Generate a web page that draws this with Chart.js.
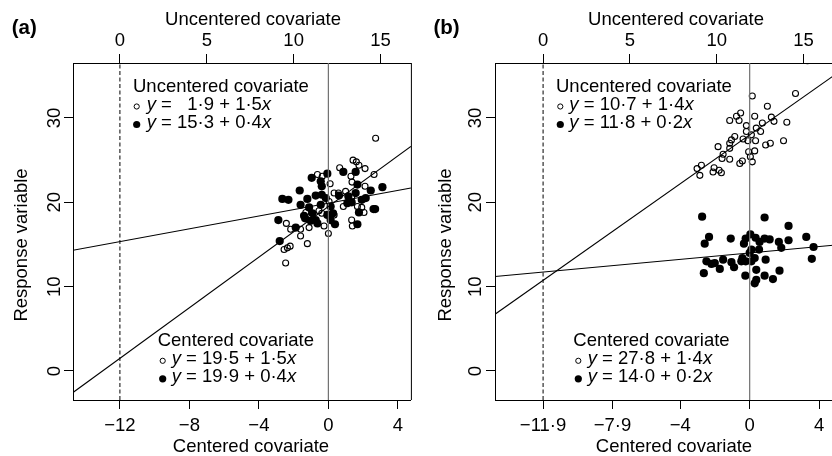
<!DOCTYPE html>
<html>
<head>
<meta charset="utf-8">
<script src="https://cdn.jsdelivr.net/npm/chart.js@4/dist/chart.umd.min.js"></script>
<style>
  html, body { margin: 0; padding: 0; background: #fff; overflow: hidden; width: 832px; height: 456px; }
  #ca { position: absolute; left: 0; top: 0; }
  #cb { position: absolute; left: 416px; top: 0; }
</style>
</head>
<body>
<canvas id="ca" width="416" height="456"></canvas>
<canvas id="cb" width="424" height="456"></canvas>
<script>
// ---- data (x = centered covariate) ----
const yTicks = [0, 10, 20, 30];
const topTicks = [0, 5, 10, 15];

// panel (a)
const aMean = 12.0;
const aBottomTicks = [-12, -8, -4, 0, 4];
const aOpenX = [2.72, 1.42, 1.61, 1.76, 2.11, 0.65, 1.30, 2.63, -0.63, -0.35, 0.10, 2.11, 0.33, 0.58, 0.99, 0.86, 1.34, 1.67, 1.92, 2.05, 1.34, 1.38, -0.54, -0.38, 0.33, -1.30, -2.42, -2.17, -1.60, -1.11, -0.25, 0.00, -1.60, -1.21, -2.55, -2.36, -2.20, -2.46, 0.04, 1.36];
const aOpenY = [27.6, 25.0, 24.8, 24.4, 24.0, 24.1, 23.1, 23.3, 23.3, 23.1, 22.2, 21.9, 21.1, 21.1, 21.3, 19.5, 20.6, 19.5, 19.4, 18.8, 17.9, 17.2, 19.0, 18.7, 18.5, 18.8, 17.5, 16.8, 16.8, 17.0, 17.2, 16.3, 16.0, 15.1, 14.4, 14.6, 14.8, 12.8, 20.1, 22.4];
const aFillX = [-0.06, 0.86, 1.57, -0.96, -0.38, -1.65, 1.67, 2.44, 3.11, -0.73, -0.38, -0.15, -1.21, -2.65, -2.30, 0.61, 1.15, 1.57, 1.92, 1.09, -1.60, -1.11, -0.44, 0.13, -1.40, -0.73, -0.92, -0.06, 0.27, 0.38, 0.13, 1.76, 2.69, 1.67, -2.88, -1.88, -2.80, -0.63, 1.34, -0.44, 2.15, -1.34, -1.02, 2.60];
const aFillY = [23.4, 23.6, 23.6, 22.9, 21.9, 21.4, 22.1, 21.4, 21.8, 20.8, 20.9, 20.5, 20.4, 20.4, 20.3, 20.8, 20.7, 21.1, 20.3, 19.9, 19.7, 19.4, 19.7, 19.5, 18.4, 17.9, 18.7, 18.5, 18.7, 17.4, 17.9, 18.8, 19.2, 17.4, 17.9, 17.0, 15.4, 17.5, 20.0, 22.5, 20.5, 18.1, 17.8, 19.2];
const aOpenFit = [19.5, 1.5];   // intercept, slope on centered covariate
const aFillFit = [19.9, 0.38];
const aUncEq = [['  1·9', '1·5'], ['15·3', '0·4']];
const aCenEq = [['19·5', '1·5'], ['19·9', '0·4']];

// panel (b)
const bMean = 11.9;
const bBottomTicks = [-11.9, -7.9, -4, 0, 4];
const bOpenX = [2.64, 0.15, 1.02, -0.52, -0.76, -0.61, -1.15, 0.29, 1.25, 1.40, 2.14, 0.73, -0.19, 0.38, 0.63, -0.19, 0.10, -0.86, -1.05, -1.15, -0.38, -0.10, 0.34, 1.19, 0.92, 1.95, -1.82, -1.15, -1.53, -1.59, -1.15, -0.06, 0.29, 0.04, 0.15, -0.42, -0.57, -3.03, -2.78, -2.87, -2.05, -2.11, -1.76, -1.63, 3.33];
const bOpenY = [32.9, 32.6, 31.4, 30.6, 30.2, 29.7, 29.7, 30.2, 30.1, 29.6, 29.5, 29.4, 29.1, 28.8, 28.4, 28.4, 28.0, 27.8, 27.4, 27.0, 27.5, 27.3, 27.3, 27.0, 26.8, 27.3, 26.6, 26.4, 25.7, 25.2, 25.1, 26.0, 26.1, 25.4, 24.8, 24.9, 24.6, 24.0, 24.4, 23.2, 24.1, 23.6, 23.8, 23.5, 36.8];
const bFillX = [-2.74, 0.86, 2.24, -2.34, -2.59, -1.09, -0.23, 0.04, 0.34, 0.57, 0.86, 1.15, -0.33, 1.68, 2.24, 1.82, 3.26, 3.68, 3.58, 0.54, 0.00, 0.29, 0.92, -0.23, -0.48, 0.10, -2.49, -2.20, -2.01, -1.53, -1.05, -1.72, -0.90, -2.64, -0.25, 0.38, 1.72, 0.86, 1.34, 0.38, 0.29, 0.10, -0.42];
const bFillY = [18.3, 18.2, 17.2, 15.9, 15.1, 15.7, 15.7, 16.2, 15.8, 15.3, 15.7, 15.6, 15.1, 15.3, 15.5, 14.6, 15.9, 14.7, 13.3, 14.4, 14.0, 13.4, 13.2, 13.0, 13.0, 13.0, 13.0, 12.7, 12.8, 13.2, 12.9, 12.1, 12.3, 11.6, 11.3, 12.0, 11.9, 11.3, 10.9, 10.8, 10.4, 14.4, 13.4];
const bOpenFit = [28.0, 1.45];
const bFillFit = [14.0, 0.19];
const bUncEq = [['10·7', '1·4'], ['11·8', '0·2']];
const bCenEq = [['27·8', '1·4'], ['14·0', '0·2']];

const Y_MIN = -3.44, Y_MAX = 36.52;
const FONT = '"Liberation Sans", Arial, sans-serif';
const FS = 18.5;

function fmt(v) { return String(v).replace('-', '\u2212').replace('.', '\u00b7'); }

function drawLegend(ctx, L) {
  ctx.textAlign = 'left';
  ctx.textBaseline = 'middle';
  ctx.font = FS + 'px ' + FONT;
  ctx.fillText(L.title, L.x, L.y);
  L.eqs.forEach((eq, i) => {
    const cy = L.y + (i + 1) * 18;
    ctx.beginPath();
    if (i === 0) {
      ctx.arc(L.symX, cy + 1.5, 2.6, 0, 2 * Math.PI);
      ctx.lineWidth = 1; ctx.stroke();
    } else {
      ctx.arc(L.symX, cy + 1.5, 3.6, 0, 2 * Math.PI);
      ctx.fill();
    }
    let x = L.eqX;
    ctx.font = 'italic ' + FS + 'px ' + FONT;
    ctx.fillText('y', x, cy); x += ctx.measureText('y').width;
    ctx.font = FS + 'px ' + FONT;
    const s = ' = ' + eq[0] + ' + ' + eq[1];
    ctx.fillText(s, x, cy); x += ctx.measureText(s).width;
    ctx.font = 'italic ' + FS + 'px ' + FONT;
    ctx.fillText('x', x, cy);
  });
}

function makePanel(id, P) {
  const xm = [P.xMin, P.xMax];
  const fitLine = f => xm.map(x => ({ x, y: f[0] + f[1] * x }));
  const vLine = x => [{ x, y: Y_MIN }, { x, y: Y_MAX }];
  const tickFont = { family: FONT, size: FS };

  const decor = {
    id: 'decor',
    afterDraw(chart) {
      const ctx = chart.ctx, a = chart.chartArea, ys = chart.scales.y;
      ctx.save();
      ctx.strokeStyle = '#000'; ctx.fillStyle = '#000'; ctx.lineWidth = 1;
      ctx.beginPath(); ctx.moveTo(a.right + 0.5, a.top); ctx.lineTo(a.right + 0.5, a.bottom); ctx.stroke();
      ctx.font = FS + 'px ' + FONT; ctx.textAlign = 'center'; ctx.textBaseline = 'middle';
      // axis titles
      ctx.fillText('Uncentered covariate', P.topTitleX, 20);
      ctx.fillText('Centered covariate', P.botTitleX, 447.3);
      ctx.save();
      ctx.translate(P.yTitleX, 245);
      ctx.rotate(-Math.PI / 2);
      ctx.fillText('Response variable', 0, 0);
      ctx.restore();
      // y tick labels, parallel to the axis
      yTicks.forEach(v => {
        ctx.save();
        ctx.translate(P.yLabelX, ys.getPixelForValue(v));
        ctx.rotate(-Math.PI / 2);
        ctx.fillText(String(v), 0, 0);
        ctx.restore();
      });
      ctx.font = 'bold 20.5px ' + FONT; ctx.textAlign = 'left';
      ctx.fillText(P.tag, P.tagX, 28);
      drawLegend(ctx, P.legTop);
      drawLegend(ctx, P.legBottom);
      ctx.restore();
    }
  };

  return new Chart(document.getElementById(id), {
    type: 'scatter',
    data: {
      datasets: [
        { data: fitLine(P.openFit), showLine: true, borderColor: '#000', borderWidth: 1.1, pointRadius: 0 },
        { data: fitLine(P.fillFit), showLine: true, borderColor: '#000', borderWidth: 1.1, pointRadius: 0 },
        { data: vLine(-P.mean), showLine: true, borderColor: '#000', borderWidth: 1, borderDash: [4, 2.5], pointRadius: 0 },
        { data: vLine(0), showLine: true, borderColor: '#707070', borderWidth: 1.2, pointRadius: 0 },
        { data: P.fillX.map((x, i) => ({ x, y: P.fillY[i] })), pointRadius: 4.1, borderWidth: 0,
          backgroundColor: '#000', borderColor: '#000', clip: 0 },
        { data: P.openX.map((x, i) => ({ x, y: P.openY[i] })), pointRadius: 3, borderWidth: 1.1,
          backgroundColor: 'rgba(0,0,0,0)', borderColor: '#000', clip: 0 }
      ]
    },
    options: {
      responsive: false,
      animation: false,
      layout: { padding: { left: 0, right: P.padRight, top: 0, bottom: 0 } },
      plugins: { legend: { display: false }, tooltip: { enabled: false } },
      scales: {
        x: {
          type: 'linear', position: 'bottom', min: P.xMin, max: P.xMax,
          afterBuildTicks: s => { s.ticks = P.bottomTicks.map(v => ({ value: v })); },
          afterFit: s => { s.height = 56; },
          ticks: { callback: v => fmt(v), font: tickFont, color: '#000', padding: 6, maxRotation: 0, autoSkip: false },
          grid: { drawOnChartArea: false, tickLength: 9, color: '#000' },
          border: { color: '#000' }
        },
        x2: {
          type: 'linear', position: 'top', display: true, min: P.xMin + P.mean, max: P.xMax + P.mean,
          afterBuildTicks: s => { s.ticks = topTicks.map(v => ({ value: v })); },
          afterFit: s => { s.height = 63; },
          ticks: { font: tickFont, color: '#000', padding: 1.6, maxRotation: 0, autoSkip: false },
          grid: { drawOnChartArea: false, tickLength: 9, color: '#000' },
          border: { color: '#000' }
        },
        y: {
          type: 'linear', position: 'left', min: Y_MIN, max: Y_MAX,
          afterBuildTicks: s => { s.ticks = yTicks.map(v => ({ value: v })); },
          afterFit: s => { s.width = P.leftW; },
          ticks: { display: false },
          grid: { drawOnChartArea: false, tickLength: 9, color: '#000' },
          border: { color: '#000' }
        }
      }
    },
    plugins: [decor]
  });
}

makePanel('ca', {
  tag: '(a)', tagX: 11.7, mean: aMean, xMin: -14.70, xMax: 4.75, bottomTicks: aBottomTicks,
  openX: aOpenX, openY: aOpenY, fillX: aFillX, fillY: aFillY, openFit: aOpenFit, fillFit: aFillFit,
  leftW: 73, padRight: 5, yLabelX: 54.5, yTitleX: 21.5, topTitleX: 253, botTitleX: 251,
  legTop: { title: 'Uncentered covariate', x: 133, y: 87, symX: 136.7, eqX: 146.7, eqs: aUncEq },
  legBottom: { title: 'Centered covariate', x: 157.7, y: 341.3, symX: 162.7, eqX: 171.7, eqs: aCenEq }
});

makePanel('cb', {
  tag: '(b)', tagX: 17.5, mean: bMean, xMin: -14.67, xMax: 4.80, bottomTicks: bBottomTicks,
  openX: bOpenX, openY: bOpenY, fillX: bFillX, fillY: bFillY, openFit: bOpenFit, fillFit: bFillFit,
  leftW: 79, padRight: 7, yLabelX: 59.7, yTitleX: 30, topTitleX: 260, botTitleX: 258,
  legTop: { title: 'Uncentered covariate', x: 140, y: 87, symX: 144.3, eqX: 153.3, eqs: bUncEq },
  legBottom: { title: 'Centered covariate', x: 157.3, y: 341.3, symX: 162.3, eqX: 171.7, eqs: bCenEq }
});
</script>
</body>
</html>
